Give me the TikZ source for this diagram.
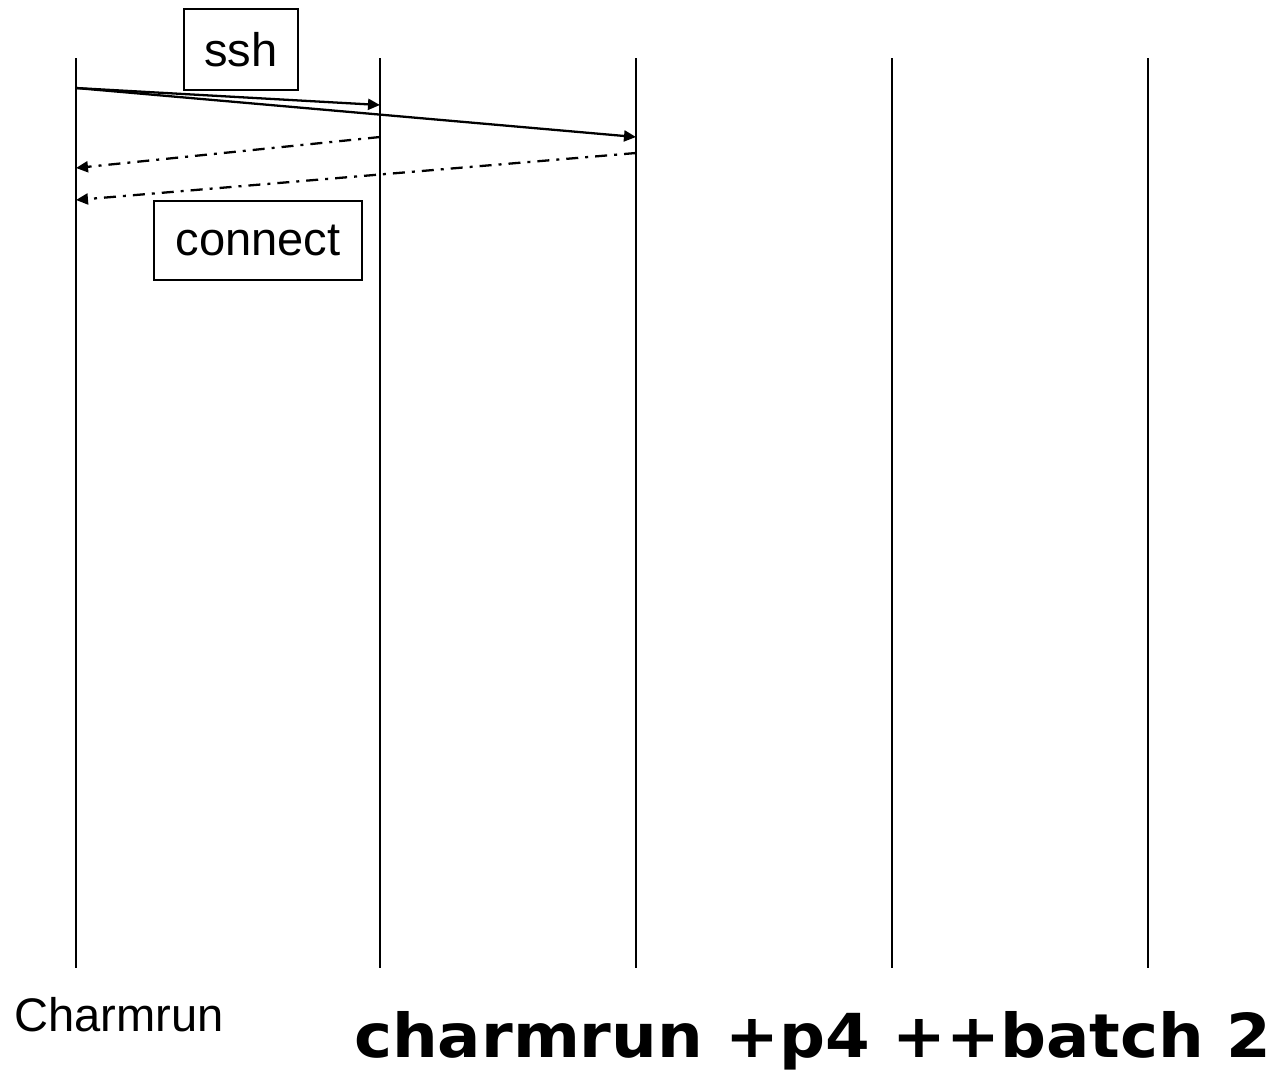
\documentclass[tikz,border=0pt]{standalone}
\usepackage{fontspec}
\setmainfont{Liberation Sans}
\newfontfamily\cmdfont{DejaVu Sans}[FakeStretch=1.06]
\usepackage{tikz}
\usetikzlibrary{arrows.meta}
\tikzset{every node/.append style={font=\fontsize{26.8}{32}\selectfont, inner sep=0pt}}
\tikzset{msgbox/.style={draw, line width=1.3pt}}
\tikzset{reply/.style={->, dash pattern=on 0.24cm off 0.14cm on 0.06cm off 0.14cm}}

\begin{document}
\begin{tikzpicture}[x=0.02cm, y=-0.02cm, line width=1.3pt, >={Triangle[length=0.24cm,width=0.22cm]}]
    \useasboundingbox (0,0) rectangle (1270,1073);
    % one line per process, charmrun first
    \foreach \n/\x in {0/76,1/380,2/636,3/892,4/1148} {
        \draw (\x,58) coordinate (top\n) -- (\x,968) coordinate (bot\n);
    }
    % ends of the messages
    \coordinate (sshA) at (76,88);
    \coordinate (sshB) at (380,105);
    \coordinate (sshC) at (636,137);
    \coordinate (backB) at (380,137);
    \coordinate (backC) at (636,153);
    \coordinate (retB) at (76,168);
    \coordinate (retC) at (76,200);
    \draw[->] (sshA) -- (sshB);
    \draw[->] (sshA) -- (sshC);
    \draw[reply] (backB) -- (retB);
    \draw[reply] (backC) -- (retC);
    \node[msgbox, minimum width=2.28cm, minimum height=1.62cm] (ssh) at (241,49.5) {ssh};
    \node[msgbox, minimum width=4.16cm, minimum height=1.58cm] (connect) at (258,240.5) {connect};
    \node[anchor=base west] (charmrun) at (13,1031) {Charmrun};
    \node[anchor=base west, font=\cmdfont\bfseries\fontsize{34.5}{40}\selectfont] (cmd) at (353,1057) {charmrun +p4 ++batch 2};
\end{tikzpicture}
\end{document}
